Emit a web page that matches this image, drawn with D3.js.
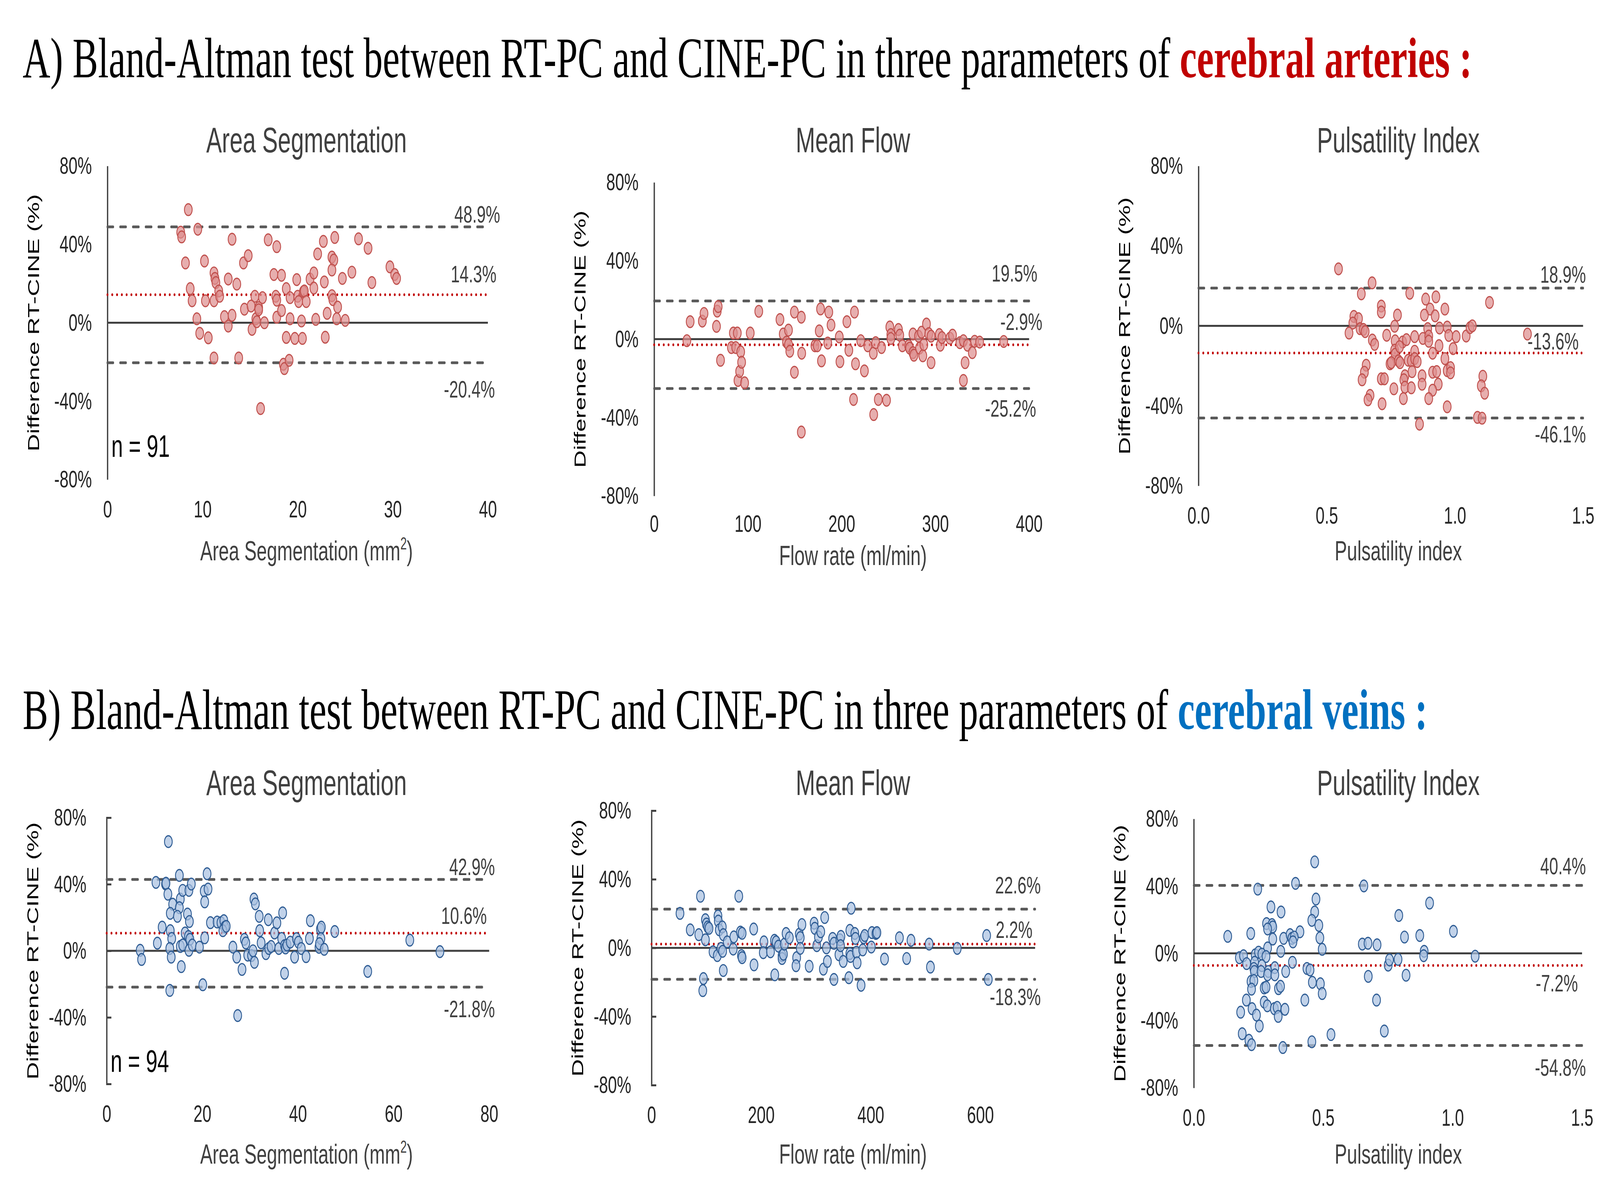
<!DOCTYPE html>
<html>
<head>
<meta charset="utf-8">
<script src="https://cdn.jsdelivr.net/npm/d3@7"></script>
<style>
  html, body { margin: 0; padding: 0; width: 100%; height: 100%; overflow: hidden; background: #fff; }
  #chart { width: 100vw; height: 100vh; }
  svg { display: block; width: 100%; height: 100%; }
</style>
</head>
<body>
<div id="chart"></div>
<script>
// ---------- data ----------
// [x, difference %]
const arteriesArea = [
  [8.5,57.7],[7.7,46.2],[7.8,43.8],[9.5,47.7],[13.1,42.6],[16.9,42.3],[17.8,38.8],[8.2,30.5],[10.2,31.5],[14.3,30.5],
  [14.8,34.2],[11.2,25.4],[11.3,22.6],[11.4,20.5],[12.7,22.3],[13.6,19.7],[17.5,24.6],[18.3,24.2],[8.7,17.4],[8.9,11.2],
  [10.3,11.2],[11.2,11.2],[11.7,16.2],[11.8,13.5],[15.5,13.5],[16.3,12.8],[17.7,13.5],[17.8,11.5],[18.8,17.4],[19.2,12.8],
  [19.9,22.0],[20.0,13.5],[20.1,10.8],[20.6,15.8],[20.7,16.2],[20.9,10.8],[21.3,22.3],[21.7,25.4],[21.7,17.7],[22.1,35.1],
  [22.7,41.5],[22.8,20.8],[23.6,33.5],[23.8,32.0],[23.6,26.9],[23.6,13.8],[23.7,11.8],[23.9,43.5],[24.2,8.0],[24.7,22.6],
  [25.7,25.8],[26.4,42.8],[27.4,38.0],[27.8,20.5],[29.7,28.5],[30.2,24.6],[30.4,22.6],[9.4,2.0],[9.7,-5.4],[10.6,-7.7],
  [11.2,-18.0],[12.3,3.1],[12.7,-1.7],[13.1,3.8],[13.8,-18.0],[14.4,6.9],[15.1,8.5],[15.2,-3.4],[15.6,2.0],[15.7,0.5],
  [15.9,7.7],[15.9,6.6],[16.5,0.0],[16.1,-43.8],[17.8,2.8],[18.3,6.2],[18.8,-7.5],[18.5,-21.2],[18.6,-23.4],[19.1,-19.2],
  [19.2,2.0],[19.7,-8.0],[20.4,0.9],[20.5,-8.0],[21.9,1.7],[22.9,-7.4],[23.1,4.8],[24.1,2.0],[25.0,1.2]
];
const arteriesFlow = [
  [34.9,-0.8],[38.4,8.9],[51.4,9.2],[53.2,13.1],[66.5,6.5],[67.3,14.3],[68.3,16.6],[70.8,-10.8],[82.4,-4.3],[84.5,3.1],
  [87.0,-4.3],[88.7,3.1],[89.4,-21.1],[91.2,-16.5],[92.3,-6.5],[93.3,-11.8],[96.5,-22.3],[102.5,3.1],[111.6,14.2],[134.2,10.0],
  [137.7,2.6],[141.2,-1.5],[143.3,4.6],[143.3,-2.8],[144.7,-6.2],[149.6,13.8],[149.6,-16.9],[157.0,11.2],[157.4,-7.2],[157.0,-47.4],
  [171.5,-3.4],[174.0,-3.4],[176.1,4.2],[177.5,15.4],[178.5,-11.1],[185.2,-2.0],[186.3,13.8],[188.7,7.2],[197.5,1.1],[198.2,-11.5],
  [205.6,8.9],[207.7,-5.7],[212.7,-30.8],[213.7,13.8],[214.8,-12.6],[220.4,-0.8],[224.3,-16.2],[227.8,-3.4],[233.8,-7.2],[234.2,-38.5],
  [236.3,-1.8],[239.1,-30.8],[242.6,-4.3],[247.9,-31.2],[251.4,6.2],[252.5,2.3],[252.5,0.3],[260.6,4.9],[262.0,2.0],[264.8,-3.4],
  [271.5,-3.4],[272.5,-4.6],[276.1,2.6],[276.1,-6.9],[277.1,-8.2],[282.0,1.5],[283.1,-4.6],[285.2,3.5],[286.6,-8.5],[287.7,-2.8],
  [290.5,7.7],[293.0,2.8],[295.4,1.5],[295.4,-12.0],[304.2,2.3],[305.3,-3.1],[307.0,0.8],[315.5,0.5],[318.3,2.0],[326.1,-1.8],
  [329.9,-0.8],[329.9,-21.1],[331.7,-12.0],[334.2,-3.1],[339.4,-6.9],[341.9,-1.1],[347.2,-1.5],[372.9,-1.2]
];
const arteriesPI = [
  [0.546,28.5],[0.677,21.5],[0.635,16.0],[0.824,16.3],[0.886,13.4],[0.926,14.5],[1.135,11.7],[0.713,9.9],[0.713,6.9],[0.776,5.4],
  [0.903,8.4],[0.961,8.4],[0.881,5.4],[0.923,5.0],[0.606,4.7],[0.624,3.6],[0.602,1.4],[0.587,-3.6],[0.630,-1.4],[0.643,-1.8],
  [0.650,-2.9],[0.765,-0.2],[0.734,-4.7],[0.678,-7.1],[0.687,-9.3],[0.767,-7.5],[0.796,-8.1],[0.811,-6.9],[0.843,-5.4],[0.875,-6.3],
  [0.894,-1.4],[0.898,-5.1],[0.898,-7.7],[0.940,-1.1],[0.970,-0.6],[0.976,-4.8],[1.005,-5.4],[1.044,-5.1],[1.059,-0.9],[1.068,0.0],
  [1.283,-4.1],[0.765,-12.2],[0.767,-14.2],[0.784,-10.4],[0.843,-12.7],[0.913,-13.7],[0.938,-9.9],[0.993,-11.4],[0.747,-19.0],[0.752,-18.4],
  [0.780,-17.5],[0.786,-18.4],[0.818,-17.2],[0.830,-17.5],[0.843,-16.4],[0.853,-17.9],[0.961,-16.4],[0.654,-19.7],[0.647,-23.2],[0.638,-27.0],
  [0.713,-26.5],[0.725,-26.5],[0.805,-25.0],[0.801,-27.0],[0.833,-22.9],[0.872,-25.0],[0.913,-23.2],[0.929,-22.9],[0.970,-22.4],[0.983,-20.9],
  [0.983,-23.5],[1.109,-25.2],[1.103,-30.0],[1.116,-33.7],[0.762,-31.5],[0.805,-30.7],[0.830,-31.0],[0.872,-29.2],[0.935,-29.2],[0.913,-32.2],
  [0.669,-34.8],[0.661,-37.0],[0.716,-39.0],[0.799,-36.4],[0.898,-36.4],[0.970,-40.5],[1.088,-45.8],[1.106,-46.2],[0.862,-49.2]
];
const veinsArea = [
  [12.9,65.6],[10.3,41.1],[12.3,40.2],[12.4,40.6],[15.2,45.3],[21.0,46.3],[12.8,34.0],[15.4,31.1],[15.9,36.3],[17.2,36.3],
  [17.7,40.1],[20.4,35.9],[21.2,37.1],[20.5,29.4],[13.8,28.0],[15.2,25.9],[13.3,22.5],[14.8,20.7],[16.9,22.1],[17.3,17.6],
  [11.6,14.2],[13.3,12.1],[13.6,7.4],[10.6,4.6],[13.2,1.4],[13.5,-3.8],[15.4,2.6],[15.9,3.5],[16.4,10.7],[17.1,8.6],
  [17.4,6.9],[17.2,0.3],[17.9,3.5],[15.6,-9.5],[19.4,2.2],[20.5,7.8],[7.0,0.3],[7.3,-5.2],[21.7,16.9],[23.1,17.3],
  [23.9,16.9],[24.5,18.1],[24.7,14.2],[24.3,12.1],[25.0,14.7],[20.1,-20.4],[13.2,-23.8],[26.4,2.2],[27.2,-3.8],[28.3,-11.2],
  [28.8,6.9],[29.1,4.7],[29.5,-2.6],[30.3,-2.9],[30.6,0.0],[30.8,31.1],[31.1,28.2],[30.9,-6.9],[27.4,-38.9],[31.9,20.7],
  [32.0,12.1],[32.3,4.8],[33.3,-1.7],[33.8,18.7],[33.9,1.4],[34.4,2.6],[35.1,10.7],[35.6,16.8],[36.0,1.4],[36.6,7.4],
  [36.8,22.8],[37.2,3.1],[37.4,1.7],[37.2,-13.5],[37.7,3.5],[38.4,5.2],[39.3,-3.8],[39.7,7.3],[40.1,5.2],[40.7,1.4],
  [41.7,-3.5],[42.4,7.4],[42.6,18.1],[44.4,2.1],[44.7,13.0],[44.9,14.2],[44.8,7.3],[44.5,4.3],[45.5,0.9],[47.7,11.6],
  [54.6,-12.4],[63.4,6.4],[69.7,-0.5]
];
const veinsFlow = [
  [51.9,20.1],[89.3,30.1],[159.2,30.1],[70.6,10.5],[86.2,7.7],[98.3,16.4],[100.1,13.9],[102.5,12.2],[104.9,11.4],[98.3,4.7],
  [112.2,-2.3],[120.0,-4.5],[121.2,18.6],[121.8,15.6],[123.6,10.5],[129.1,12.2],[130.9,7.7],[126.7,-0.3],[129.7,-2.0],[138.1,3.5],
  [130.9,-13.2],[94.7,-17.9],[93.5,-24.9],[150.2,6.4],[149.0,-0.7],[162.2,9.2],[165.3,8.5],[164.1,-4.5],[165.3,-5.7],[186.4,11.0],
  [187.0,-9.9],[205.1,3.5],[203.9,-2.8],[217.1,-2.3],[224.4,4.4],[227.4,3.5],[231.6,1.0],[224.9,-15.7],[238.2,-4.5],[238.2,-6.2],
  [240.7,-3.7],[242.5,2.2],[245.5,8.4],[251.5,5.9],[264.8,-5.7],[263.6,-10.4],[269.6,8.0],[271.4,6.0],[271.4,-0.3],[274.4,13.6],
  [287.7,-10.7],[296.7,14.4],[297.9,11.4],[301.6,1.3],[304.6,6.4],[308.8,9.4],[316.0,17.7],[319.1,0.0],[313.6,-12.4],[320.9,-7.9],
  [330.5,5.5],[332.9,2.7],[332.9,-18.4],[342.0,-4.0],[343.8,4.7],[345.6,6.7],[345.0,1.3],[349.8,-7.9],[361.9,10.2],[361.9,-3.3],
  [364.3,23.1],[360.1,-17.4],[363.1,-5.0],[371.0,8.4],[372.1,5.5],[373.9,-2.5],[375.2,-8.7],[382.4,-21.8],[385.4,-1.2],[387.2,5.9],
  [389.0,7.2],[401.1,0.5],[402.3,8.9],[409.5,8.4],[411.3,8.9],[425.2,-6.5],[452.4,5.9],[465.6,-6.2],[473.5,4.4],[506.6,2.2],
  [509.0,-11.2],[557.9,-0.3],[611.6,7.2],[614.6,-18.4]
];
const veinsPI = [
  [0.467,54.4],[0.393,41.6],[0.247,38.2],[0.657,40.1],[0.472,32.3],[0.911,29.9],[0.298,27.6],[0.337,24.6],[0.467,24.6],[0.792,22.5],
  [0.456,19.6],[0.281,17.7],[0.302,17.1],[0.305,15.7],[0.285,14.5],[0.483,16.6],[0.410,12.8],[1.003,13.1],[0.220,11.8],[0.131,10.1],
  [0.305,8.5],[0.347,8.9],[0.372,11.1],[0.379,8.9],[0.388,9.7],[0.383,6.8],[0.487,9.2],[0.814,9.7],[0.873,10.6],[0.285,3.2],
  [0.336,1.2],[0.496,2.4],[0.651,5.5],[0.673,6.0],[0.708,5.1],[0.890,1.2],[0.888,-1.4],[1.087,-1.7],[0.176,-2.6],[0.192,-1.4],
  [0.204,-6.1],[0.237,-0.9],[0.250,0.7],[0.263,-0.5],[0.279,-1.9],[0.235,-5.3],[0.232,-9.0],[0.234,-10.8],[0.263,-7.3],[0.260,-10.8],
  [0.288,-10.8],[0.285,-12.8],[0.313,-8.5],[0.313,-12.8],[0.355,-10.8],[0.381,-5.3],[0.437,-9.0],[0.449,-9.9],[0.751,-7.0],[0.756,-3.9],
  [0.789,-3.6],[0.674,-13.7],[0.820,-13.0],[0.221,-16.7],[0.232,-16.2],[0.223,-21.3],[0.272,-20.6],[0.279,-20.1],[0.327,-21.0],[0.335,-19.6],
  [0.458,-17.2],[0.489,-18.1],[0.496,-23.9],[0.203,-27.8],[0.272,-29.0],[0.284,-31.2],[0.311,-32.9],[0.322,-32.1],[0.352,-33.3],[0.429,-27.8],
  [0.706,-27.8],[0.181,-35.0],[0.225,-32.9],[0.242,-36.7],[0.326,-37.5],[0.253,-43.2],[0.187,-47.8],[0.213,-51.7],[0.223,-54.3],[0.344,-56.0],
  [0.456,-52.6],[0.530,-48.3],[0.736,-46.2]
];

// upper limit, mean bias, lower limit (%)
const arteriesLimits = [[48.9, 14.3, -20.4], [19.5, -2.9, -25.2], [18.9, -13.6, -46.1]];
const veinsLimits = [[42.9, 10.6, -21.8], [22.6, 2.2, -18.3], [40.4, -7.2, -54.8]];

const panelTitles = ['Area Segmentation', 'Mean Flow', 'Pulsatility Index'];
const xAxisTitles = ['Area Segmentation (mm', 'Flow rate (ml/min)', 'Pulsatility index'];
const yAxisTitle = 'Difference RT-CINE (%)';
const yTicks = [80, 40, 0, -40, -80];
const xDomains = [[0, 40], [0, 400], [0, 1.5], [0, 80], [0, 700], [0, 1.5]];
const xTicks = [[0, 10, 20, 30, 40], [0, 100, 200, 300, 400], [0, 0.5, 1, 1.5],
                [0, 20, 40, 60, 80], [0, 200, 400, 600], [0, 0.5, 1, 1.5]];
const sampleSizes = ['n = 91', 'n = 94'];

// ---------- layout ----------
const W = 6149, H = 3045;
const layout = [
  { x0: 413,  x1: 1875, top: 425,  bot: 1228, cx: 1178, titleY: 390,  tickY: 97, xlabY: 1435, ticks: false,
    lab: [[47, -11], [33, -32], [27, 89]] },
  { x0: 2514, x1: 3955, top: 467,  bot: 1270, cx: 3278, titleY: 390,  tickY: 92, xlabY: 1447, ticks: false,
    lab: [[32, -50], [51, -38], [27, 72]] },
  { x0: 4606, x1: 6084, top: 425,  bot: 1244, cx: 5374, titleY: 390,  tickY: 97, xlabY: 1435, ticks: false,
    lab: [[11, -14], [-17, -9], [11, 63]] },
  { x0: 410,  x1: 1880, top: 2094, bot: 2776, cx: 1178, titleY: 2036, tickY: 97, xlabY: 2980, ticks: true,
    lab: [[22, -11], [-9, -24], [22, 77]] },
  { x0: 2504, x1: 3978, top: 2076, bot: 2779, cx: 3278, titleY: 2036, tickY: 97, xlabY: 2980, ticks: true,
    lab: [[22, -40], [-10, -16], [22, 66]] },
  { x0: 4588, x1: 6080, top: 2097, bot: 2786, cx: 5374, titleY: 2036, tickY: 97, xlabY: 2980, ticks: false,
    lab: [[15, -29], [-16, 67], [15, 78]] }
];

const sans = "'Liberation Sans', Arial, sans-serif";
const serif = "'Liberation Serif', 'Times New Roman', serif";
const axisColor = '#404040';

// the drawing is laid out in a 6149 x 3045 box and stretched to fill the window
const svg = d3.select('#chart').append('svg')
  .attr('viewBox', `0 0 ${W} ${H}`)
  .attr('preserveAspectRatio', 'none');

svg.append('rect').attr('width', W).attr('height', H).attr('fill', '#fff');

// ---------- row headings ----------
function heading(y, letter, tail, color) {
  const t = svg.append('text')
    .attr('x', 87).attr('y', y)
    .attr('font-family', serif).attr('font-size', 147).attr('fill', '#000');
  t.append('tspan').text(letter + ') Bland-Altman test between RT-PC and CINE-PC in three parameters of ');
  t.append('tspan').attr('font-weight', 'bold').attr('fill', color).text(tail);
}
heading(198, 'A', 'cerebral arteries :', '#C00000');
heading(1867, 'B', 'cerebral veins :', '#0070C0');

// ---------- panels ----------
const allData = [arteriesArea, arteriesFlow, arteriesPI, veinsArea, veinsFlow, veinsPI];
const allLimits = arteriesLimits.concat(veinsLimits);

allData.forEach((data, i) => {
  const L = layout[i];
  const arteries = i < 3;
  const k = i % 3;
  const g = svg.append('g');

  const x = d3.scaleLinear().domain(xDomains[i]).range([L.x0, L.x1]);
  const y = d3.scaleLinear().domain([-80, 80]).range([L.bot, L.top]);

  // title
  g.append('text')
    .attr('x', L.cx).attr('y', L.titleY)
    .attr('text-anchor', 'middle')
    .attr('font-family', sans).attr('font-size', 90).attr('fill', '#404040')
    .text(panelTitles[k]);

  // y axis
  const yAxis = d3.axisLeft(y)
    .tickValues(yTicks)
    .tickFormat((d) => d + '%')
    .tickSize(L.ticks ? -18 : 0)
    .tickPadding(L.ticks ? 78 : 60);
  const yg = g.append('g')
    .attr('transform', `translate(${L.x0},0)`)
    .call(yAxis);
  yg.select('.domain').attr('stroke', axisColor).attr('stroke-width', 5);
  yg.selectAll('.tick line').attr('stroke', axisColor).attr('stroke-width', 5);
  yg.selectAll('.tick text')
    .attr('font-family', sans).attr('font-size', 62).attr('fill', '#262626');

  // x axis (labels only)
  const xAxis = d3.axisBottom(x)
    .tickValues(xTicks[i])
    .tickFormat(xDomains[i][1] < 2 ? d3.format('.1f') : d3.format('d'))
    .tickSize(0)
    .tickPadding(0);
  const xg = g.append('g')
    .attr('transform', `translate(0,${L.bot})`)
    .call(xAxis);
  xg.select('.domain').remove();
  xg.selectAll('.tick text')
    .attr('dy', null).attr('y', L.tickY)
    .attr('font-family', sans).attr('font-size', 62).attr('fill', '#262626');

  // y axis title
  g.append('text')
    .attr('transform', `translate(${L.x0 - 285},${(L.top + L.bot) / 2}) rotate(-90)`)
    .attr('text-anchor', 'middle').attr('dy', '0.35em')
    .attr('font-family', sans).attr('font-size', 62).attr('fill', '#000')
    .text(yAxisTitle);

  // x axis title
  const xt = g.append('text')
    .attr('x', L.cx).attr('y', L.xlabY)
    .attr('text-anchor', 'middle')
    .attr('font-family', sans).attr('font-size', 71).attr('fill', '#404040');
  xt.append('tspan').text(xAxisTitles[k]);
  if (k === 0) {
    xt.append('tspan').attr('font-size', 44).attr('dy', -28).text('2');
    xt.append('tspan').attr('dy', 28).text(')');
  }

  // reference lines
  const [upper, mean, lower] = allLimits[i];
  [upper, lower].forEach((v) => {
    g.append('line')
      .attr('x1', x(0)).attr('x2', L.x1)
      .attr('y1', y(v)).attr('y2', y(v))
      .attr('stroke', '#595959').attr('stroke-width', 7)
      .attr('stroke-linecap', 'round')
      .attr('stroke-dasharray', '22 27');
  });
  g.append('line')
    .attr('x1', x(0)).attr('x2', L.x1)
    .attr('y1', y(mean)).attr('y2', y(mean))
    .attr('stroke', '#C00000').attr('stroke-width', 7)
    .attr('stroke-linecap', 'round')
    .attr('stroke-dasharray', '0.1 18.3');
  g.append('line')
    .attr('x1', x(0)).attr('x2', L.x1)
    .attr('y1', y(0)).attr('y2', y(0))
    .attr('stroke', axisColor).attr('stroke-width', 5);

  // value labels
  [upper, mean, lower].forEach((v, j) => {
    g.append('text')
      .attr('x', L.x1 + L.lab[j][0])
      .attr('y', y(v) + L.lab[j][1])
      .attr('text-anchor', 'end')
      .attr('font-family', sans).attr('font-size', 62).attr('fill', '#404040')
      .text(v.toFixed(1) + '%');
  });

  // points
  g.append('g').selectAll('circle')
    .data(data)
    .enter()
    .append('circle')
    .attr('cx', (d) => x(d[0]))
    .attr('cy', (d) => y(d[1]))
    .attr('r', 15)
    .attr('fill', arteries ? '#DE8F8F' : '#A9C1E0')
    .attr('fill-opacity', 0.72)
    .attr('stroke', arteries ? '#C0504D' : '#2E5C94')
    .attr('stroke-width', 3.2);

  // sample size
  if (k === 0) {
    g.append('text')
      .attr('x', L.x0 + 15).attr('y', arteries ? 1170 : 2745)
      .attr('font-family', sans).attr('font-size', 80).attr('fill', '#000')
      .text(sampleSizes[arteries ? 0 : 1]);
  }
});
</script>
</body>
</html>
